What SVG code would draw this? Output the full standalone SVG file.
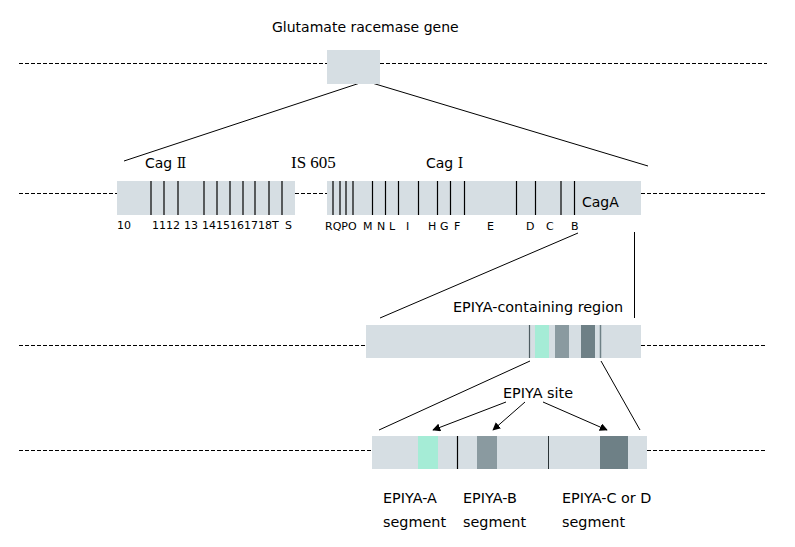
<svg xmlns="http://www.w3.org/2000/svg" width="795" height="547" viewBox="0 0 795 547">
<style>
.dash{stroke:#000;stroke-width:1;stroke-dasharray:4 2;fill:none}
.box{fill:#d6dee3}
.ln{stroke:#000;stroke-width:1;fill:none}
.tick{stroke:#000;stroke-width:1.2}
.t{font-family:"DejaVu Sans",Verdana,sans-serif;fill:#000}
.lbl{font-size:11px}
.big{font-size:14px}
.seg{font-size:14.4px}
.cyan{fill:#a5ecd6}
.grey{fill:#8a9aa0}
.dark{fill:#6e8086}
</style>
<defs>
<marker id="arr" viewBox="0 0 10 10" refX="9" refY="5" markerWidth="8" markerHeight="8" markerUnits="userSpaceOnUse" orient="auto">
<path d="M0,0 L10,5 L0,10 z" fill="#000"/>
</marker>
</defs>
<rect width="795" height="547" fill="#fff"/>
<g id="backbones">
<line class="dash" x1="19" y1="63.5" x2="327" y2="63.5"/>
<line class="dash" x1="380" y1="63.5" x2="767" y2="63.5"/>
<line class="dash" x1="19" y1="193.5" x2="117" y2="193.5"/>
<line class="dash" x1="295" y1="193.5" x2="327" y2="193.5"/>
<line class="dash" x1="641" y1="193.5" x2="767" y2="193.5"/>
<line class="dash" x1="19" y1="345.5" x2="366" y2="345.5"/>
<line class="dash" x1="641" y1="345.5" x2="767" y2="345.5"/>
<line class="dash" x1="19" y1="450.5" x2="372" y2="450.5"/>
<line class="dash" x1="647" y1="450.5" x2="767" y2="450.5"/>
</g>
<g id="connectors">
<line class="ln" x1="360" y1="83" x2="124" y2="161"/>
<line class="ln" x1="372" y1="83" x2="648" y2="166"/>
<line class="ln" x1="578" y1="233" x2="380" y2="318"/>
<line class="ln" x1="634.5" y1="232" x2="634.5" y2="318"/>
<line class="ln" x1="530" y1="361" x2="379" y2="430"/>
<line class="ln" x1="601" y1="361" x2="640" y2="430"/>
<line class="ln" x1="506" y1="402" x2="433" y2="430" marker-end="url(#arr)"/>
<line class="ln" x1="525" y1="402" x2="493" y2="430" marker-end="url(#arr)"/>
<line class="ln" x1="543" y1="402" x2="607" y2="430" marker-end="url(#arr)"/>
</g>
<g id="glutamate">
<rect class="box" x="327" y="50" width="53" height="34"/>
<text class="t big" x="272" y="32">Glutamate racemase gene</text>
</g>
<g id="cagII">
<rect class="box" x="117" y="181" width="178" height="34"/>
<g class="tick">
<line x1="151" y1="181" x2="151" y2="215"/>
<line x1="164" y1="181" x2="164" y2="215"/>
<line x1="178" y1="181" x2="178" y2="215"/>
<line x1="204" y1="181" x2="204" y2="215"/>
<line x1="217" y1="181" x2="217" y2="215"/>
<line x1="230" y1="181" x2="230" y2="215"/>
<line x1="243" y1="181" x2="243" y2="215"/>
<line x1="255" y1="181" x2="255" y2="215"/>
<line x1="269" y1="181" x2="269" y2="215"/>
<line x1="282" y1="181" x2="282" y2="215"/>
</g>
<text class="t big" x="145" y="168">Cag <tspan font-family="'DejaVu Serif',serif">Ⅱ</tspan></text>
<text class="t lbl" x="117" y="229">10</text>
<text class="t lbl" x="152" y="229">1112</text>
<text class="t lbl" x="184" y="229">13</text>
<text class="t lbl" x="202" y="229">1415161718T</text>
<text class="t lbl" x="285" y="229">S</text>
</g>
<g id="is605">
<text x="291" y="168" font-family="'Liberation Serif',serif" font-size="17">IS 605</text>
</g>
<g id="cagI">
<rect class="box" x="327" y="181" width="314" height="34"/>
<g class="tick">
<line x1="333" y1="181" x2="333" y2="215"/>
<line x1="340" y1="181" x2="340" y2="215"/>
<line x1="346" y1="181" x2="346" y2="215"/>
<line x1="353" y1="181" x2="353" y2="215"/>
<line x1="372.5" y1="181" x2="372.5" y2="215"/>
<line x1="385.5" y1="181" x2="385.5" y2="215"/>
<line x1="398.5" y1="181" x2="398.5" y2="215"/>
<line x1="418.5" y1="181" x2="418.5" y2="215"/>
<line x1="437.5" y1="181" x2="437.5" y2="215"/>
<line x1="450.5" y1="181" x2="450.5" y2="215"/>
<line x1="464.5" y1="181" x2="464.5" y2="215"/>
<line x1="516.5" y1="181" x2="516.5" y2="215"/>
<line x1="535.5" y1="181" x2="535.5" y2="215"/>
<line x1="561" y1="181" x2="561" y2="215"/>
<line x1="574.5" y1="181" x2="574.5" y2="215"/>
</g>
<text class="t big" x="426" y="168">Cag <tspan font-family="'DejaVu Serif',serif">Ⅰ</tspan></text>
<text class="t big" x="582" y="207">CagA</text>
<text class="t lbl" x="325" y="230">RQPO</text>
<text class="t lbl" x="363" y="230">M</text>
<text class="t lbl" x="377" y="230">N</text>
<text class="t lbl" x="389" y="230">L</text>
<text class="t lbl" x="406" y="230">I</text>
<text class="t lbl" x="428" y="230">H</text>
<text class="t lbl" x="440" y="230">G</text>
<text class="t lbl" x="454" y="230">F</text>
<text class="t lbl" x="487" y="230">E</text>
<text class="t lbl" x="526" y="230">D</text>
<text class="t lbl" x="546" y="230">C</text>
<text class="t lbl" x="571" y="230">B</text>
</g>
<g id="epiya-region">
<rect class="box" x="366" y="325" width="275" height="33"/>
<line x1="529.5" y1="325" x2="529.5" y2="358" stroke="#4e5c62" stroke-width="1.2"/>
<rect class="cyan" x="535" y="325" width="14" height="33"/>
<rect class="grey" x="555" y="325" width="14" height="33"/>
<rect class="dark" x="581" y="325" width="14" height="33"/>
<line x1="600.5" y1="325" x2="600.5" y2="358" stroke="#6e8086" stroke-width="1.5"/>
<text class="t seg" x="453" y="312">EPIYA-containing region</text>
</g>
<g id="epiya-segments">
<rect class="box" x="372" y="436" width="275" height="33"/>
<rect class="cyan" x="418" y="436" width="20" height="33"/>
<line x1="457.5" y1="436" x2="457.5" y2="469" stroke="#000" stroke-width="1.2"/>
<rect class="grey" x="477" y="436" width="20" height="33"/>
<line x1="548.5" y1="436" x2="548.5" y2="469" stroke="#2a3336" stroke-width="1"/>
<rect class="dark" x="600" y="436" width="28" height="33"/>
<text class="t seg" x="503" y="398">EPIYA site</text>
</g>
<g id="labels">
<text class="t seg" x="383" y="503">EPIYA-A</text>
<text class="t seg" x="383" y="527">segment</text>
<text class="t seg" x="463" y="503">EPIYA-B</text>
<text class="t seg" x="463" y="527">segment</text>
<text class="t seg" x="562" y="503">EPIYA-C or D</text>
<text class="t seg" x="562" y="527">segment</text>
</g>
</svg>
